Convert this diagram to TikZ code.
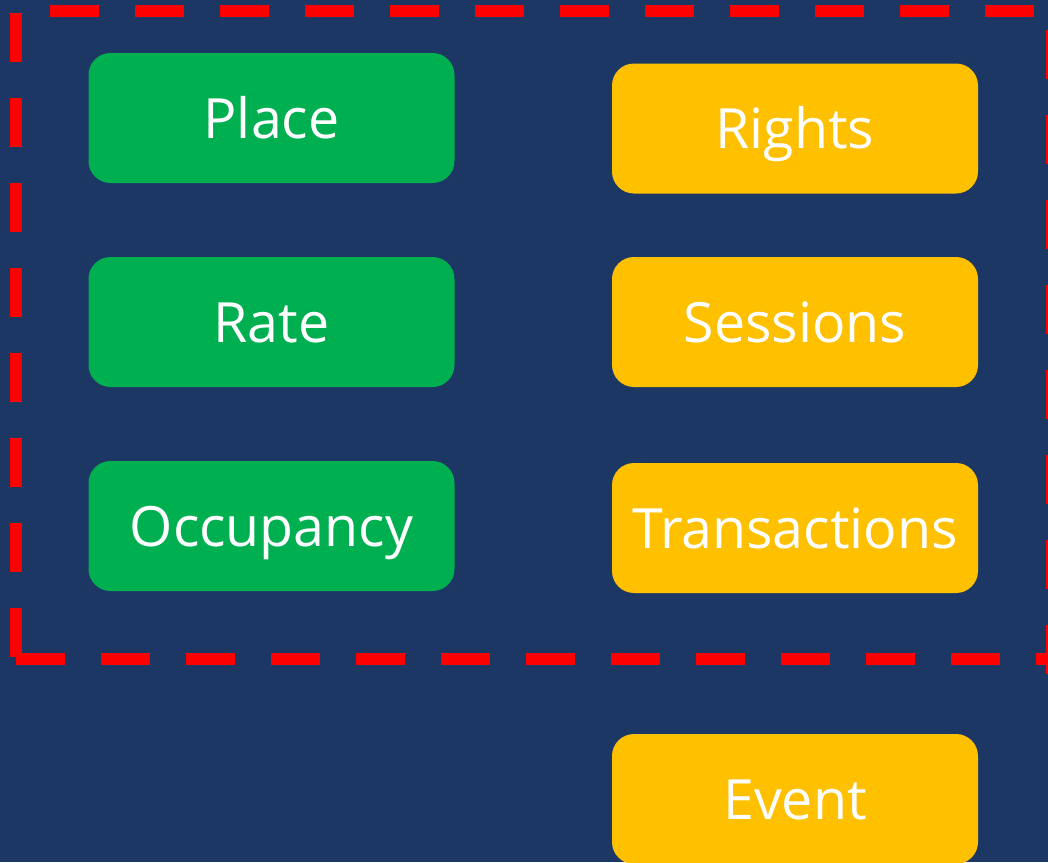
\documentclass[tikz,border=0pt]{standalone}
\usepackage{fontspec}
\setmainfont{Open Sans}[Ligatures=NoCommon]
\definecolor{bgnavy}{RGB}{29,55,100}
\definecolor{boxgreen}{RGB}{0,176,80}
\definecolor{boxyellow}{RGB}{255,192,0}
\definecolor{dashred}{RGB}{255,0,0}
\begin{document}
\begin{tikzpicture}[x=1pt,y=-1pt,
  box/.style={rounded corners=22pt, minimum width=366pt, minimum height=130pt,
    inner sep=0pt, text=white, font=\fontsize{55.5}{66}\selectfont,
    text height=40pt, text depth=0pt},
  gbox/.style={box, fill=boxgreen},
  ybox/.style={box, fill=boxyellow},
  redline/.style={draw=dashred, line width=12pt, dash pattern=on 49pt off 36pt}
]
\useasboundingbox (0,0) rectangle (1048,862);
\fill[bgnavy] (0,0) rectangle (1048,862);
% dashed frame
\draw[redline] (15.5,13) -- (15.5,659);
\draw[redline] (15.7,659) -- (1070,659);
\draw[redline] (50,10.5) -- (1070,10.5);
\draw[redline] (1052,30) -- (1052,700);
% boxes
\node[gbox] (place) at (271.5,118) {Place};
\node[gbox] (rate) at (271.5,322) {Rate};
\node[gbox] (occ) at (271.5,526) {Occupancy};
\node[ybox] (rights) at (795,128.5) {Rights};
\node[ybox] (sessions) at (795,322) {Sessions};
\node[ybox] (trans) at (795,528) {Transactions};
\node[ybox] (event) at (795,799) {Event};
\end{tikzpicture}
\end{document}
